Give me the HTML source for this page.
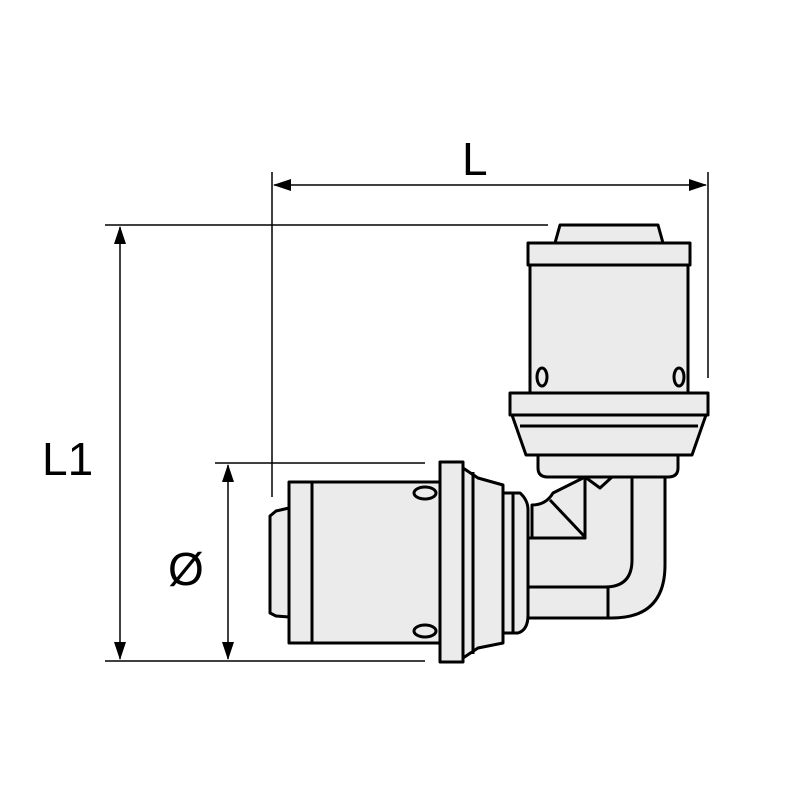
<!DOCTYPE html>
<html><head><style>body{margin:0;background:#fff}svg{display:block}text{font-family:"Liberation Sans",sans-serif}</style></head><body>
<svg width="800" height="800" viewBox="0 0 800 800" xmlns="http://www.w3.org/2000/svg">
<defs>
<marker id="b" markerWidth="18" markerHeight="12" refX="17" refY="6" orient="auto-start-reverse" markerUnits="userSpaceOnUse"><path d="M0,0 L18,6 L0,12 Z" fill="#000"/></marker></defs>
<g stroke="#000" stroke-width="1.5" fill="none">
<line x1="272" y1="172" x2="272" y2="497"/>
<line x1="708" y1="172" x2="708" y2="378"/>
<line x1="274" y1="185" x2="706" y2="185" marker-start="url(#b)" marker-end="url(#b)"/>
<line x1="105" y1="225" x2="548" y2="225"/>
<line x1="105" y1="661" x2="425" y2="661"/>
<line x1="120" y1="227" x2="120" y2="659" marker-start="url(#b)" marker-end="url(#b)"/>
<line x1="215" y1="463" x2="425" y2="463"/>
<line x1="228" y1="465" x2="228" y2="659" marker-start="url(#b)" marker-end="url(#b)"/>
</g>
<g font-size="46" fill="#000">
<text x="462" y="175">L</text>
<text x="42" y="475">L1</text>
<text x="168" y="585">Ø</text>
</g>
<g stroke="#000" stroke-width="3" fill="#ebebeb" stroke-linejoin="round">
<!-- elbow -->
<path d="M528,538 L585,538 L585,477 L665,477 L665,565 Q665,618 612,618 L528,618 Z"/>
<path d="M632,477 L632,560 Q632,587 605,587 L528,587" fill="none"/>
<line x1="608" y1="587" x2="608" y2="618"/>
<path d="M585,477 L600,488 L612,477" fill="none"/>
<path d="M532,505 Q546,505 553,493 L585,477 L585,538 L532,538 Z"/>
<line x1="550" y1="500" x2="585" y2="537"/>
<!-- upper fitting -->
<path d="M553,477 L553,465 L665,465 L665,477 Z"/>
<path d="M538,455 L678,455 L678,468 Q678,477 668,477 L548,477 Q538,477 538,468 Z"/>
<path d="M512,415 L706,415 L692,455 L526,455 Z"/>
<line x1="520" y1="426" x2="698" y2="426"/>
<rect x="510" y="393" width="198" height="22"/>
<rect x="530" y="265" width="158" height="128"/>
<rect x="528" y="243" width="162" height="22"/>
<path d="M555,243 L560,225 L658,225 L663,243 Z"/>
<ellipse cx="542" cy="377" rx="5" ry="9"/>
<ellipse cx="679" cy="377" rx="5" ry="9"/>
<!-- left fitting -->
<path d="M513,493 L520,493 Q528,500 528,510 L528,615 Q528,630 518,633 L513,633 Z"/>
<rect x="503" y="493" width="10" height="140"/>
<path d="M463,468 L478,478 L503,485 L503,643 L478,648 L463,658 Z"/>
<line x1="473" y1="472" x2="473" y2="654"/>
<rect x="440" y="462" width="23" height="200"/>
<rect x="312" y="482" width="128" height="161"/>
<rect x="289" y="482" width="23" height="161"/>
<path d="M289,508 L276,511 L270,516 L270,613 L276,616 L289,617 Z"/>
<ellipse cx="425" cy="493" rx="11" ry="6"/>
<ellipse cx="425" cy="631" rx="11" ry="6"/>
</g>
</svg>
</body></html>
